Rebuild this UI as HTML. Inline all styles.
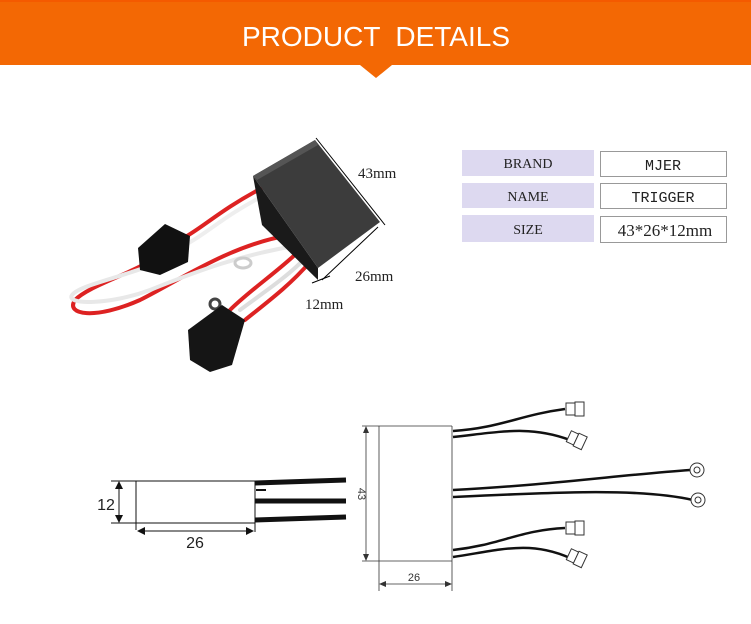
<!DOCTYPE html>
<html><head><meta charset="utf-8"><style>
body{margin:0;background:#fff;width:751px;height:624px;overflow:hidden}
svg{display:block}
</style></head><body>
<svg width="751" height="624" viewBox="0 0 751 624" xmlns="http://www.w3.org/2000/svg">
<rect x="0" y="0" width="751" height="65" fill="#f36804"/>
<rect x="0" y="0" width="751" height="2" fill="#f45a00"/>
<polygon points="360,65 392,65 376,78" fill="#f36804"/>
<text x="242" y="46" font-family="Liberation Sans, sans-serif" font-size="28" fill="#fff">PRODUCT</text>
<text x="510" y="46" font-family="Liberation Sans, sans-serif" font-size="28" fill="#fff" text-anchor="end">DETAILS</text>

<!-- table -->
<g font-family="Liberation Serif, serif" font-size="15" fill="#222" text-anchor="middle">
<rect x="462" y="150" width="132" height="26" fill="#ddd9f0"/>
<rect x="462" y="183" width="132" height="25" fill="#ddd9f0"/>
<rect x="462" y="215" width="132" height="27" fill="#ddd9f0"/>
<text x="528" y="168" font-size="14">BRAND</text>
<text x="528" y="201" font-size="14">NAME</text>
<text x="528" y="234" font-size="14">SIZE</text>
<rect x="600.5" y="151.5" width="126" height="25" fill="#fff" stroke="#999"/>
<rect x="600.5" y="183.5" width="126" height="25" fill="#fff" stroke="#999"/>
<rect x="600.5" y="216.5" width="126" height="26" fill="#fff" stroke="#999"/>
<text x="663" y="170" font-family="Liberation Mono, monospace" font-size="15">MJER</text>
<text x="663" y="202" font-family="Liberation Mono, monospace" font-size="15">TRIGGER</text>
<text x="665" y="236" font-size="17">43*26*12mm</text>
</g>

<!-- photo -->
<g fill="none" stroke-linecap="round">
<path d="M262,188 C220,210 200,230 180,240" stroke="#d22" stroke-width="4"/>
<path d="M265,195 C225,215 205,235 185,245" stroke="#eee" stroke-width="4"/>
<path d="M160,255 C130,275 90,285 75,300 C65,315 95,320 140,300 C180,280 230,245 290,235" stroke="#d22" stroke-width="4"/>
<path d="M160,262 C120,278 80,285 72,295 C65,305 110,305 150,290 C200,270 240,255 300,245" stroke="#e8e8e8" stroke-width="4"/>
<path d="M300,250 C280,270 250,290 230,310" stroke="#d22" stroke-width="4"/>
<path d="M305,258 C290,275 260,295 240,310" stroke="#ddd" stroke-width="4"/>
<path d="M310,262 C290,285 270,300 245,320" stroke="#d22" stroke-width="4"/>
<ellipse cx="243" cy="263" rx="8" ry="5" stroke="#ccc" stroke-width="3"/>
<circle cx="215" cy="304" r="5" stroke="#444" stroke-width="3"/>
</g>
<polygon points="138,248 165,224 190,236 188,262 160,275 140,270" fill="#111"/>
<polygon points="188,330 222,305 245,320 232,365 210,372 190,360" fill="#151515"/>
<polygon points="253,176 262,225 318,280 318,268" fill="#1a1a1a"/>
<polygon points="253,176 315,140 380,222 318,268" fill="#3c3c3c"/>
<polygon points="253,176 315,140 318,145 257,180" fill="#555"/>
<g stroke="#000" stroke-width="1">
<line x1="316" y1="138" x2="385" y2="225"/>
<line x1="378" y1="227" x2="322" y2="280"/>
<line x1="312" y1="283" x2="330" y2="276"/>
</g>
<g font-family="Liberation Serif, serif" font-size="15" fill="#222">
<text x="358" y="178">43mm</text>
<text x="355" y="281">26mm</text>
<text x="305" y="309">12mm</text>
</g>

<!-- side view -->
<g stroke="#111" fill="none">
<line x1="111" y1="481" x2="255" y2="481" stroke-width="1"/>
<line x1="111" y1="523" x2="255" y2="523" stroke-width="1"/>
<line x1="136" y1="481" x2="136" y2="530" stroke-width="1"/>
<line x1="255" y1="481" x2="255" y2="532" stroke-width="1"/>
<line x1="119" y1="483" x2="119" y2="521" stroke-width="1"/>
<line x1="138" y1="531" x2="253" y2="531" stroke-width="1"/>
<line x1="255" y1="483" x2="346" y2="480" stroke-width="5"/>
<line x1="255" y1="501" x2="346" y2="501" stroke-width="5"/>
<line x1="255" y1="520" x2="346" y2="517" stroke-width="5"/>
<line x1="256" y1="490" x2="266" y2="490" stroke-width="2"/>
</g>
<g fill="#111">
<polygon points="119,481 115,489 123,489"/><polygon points="119,523 115,515 123,515"/>
<polygon points="137,531 145,527 145,535"/><polygon points="254,531 246,527 246,535"/>
</g>
<text x="106" y="510" font-family="Liberation Sans, sans-serif" font-size="16" fill="#222" text-anchor="middle">12</text>
<text x="195" y="548" font-family="Liberation Sans, sans-serif" font-size="16" fill="#222" text-anchor="middle">26</text>

<!-- top view -->
<g stroke="#333" fill="none" stroke-width="0.8">
<line x1="362" y1="426" x2="452" y2="426"/>
<line x1="362" y1="561" x2="452" y2="561"/>
<line x1="379" y1="426" x2="379" y2="591"/>
<line x1="452" y1="426" x2="452" y2="591"/>
<line x1="366" y1="428" x2="366" y2="559"/>
<line x1="381" y1="584" x2="450" y2="584"/>
</g>
<g fill="#333">
<polygon points="366,426 363,433 369,433"/><polygon points="366,561 363,554 369,554"/>
<polygon points="379,584 386,581 386,587"/><polygon points="452,584 445,581 445,587"/>
</g>
<text x="358" y="494" font-family="Liberation Sans, sans-serif" font-size="11" fill="#333" text-anchor="middle" transform="rotate(90 358 494)">43</text>
<text x="414" y="581" font-family="Liberation Sans, sans-serif" font-size="11" fill="#333" text-anchor="middle">26</text>
<g stroke="#111" fill="none" stroke-width="2.5">
<path d="M453,431 C500,428 520,415 565,409"/>
<path d="M453,437 C500,432 530,425 570,440"/>
<path d="M453,490 C550,485 620,475 690,470"/>
<path d="M453,497 C560,492 640,488 693,500"/>
<path d="M453,550 C500,545 520,530 565,528"/>
<path d="M453,557 C500,550 530,540 570,558"/>
</g>
<g fill="#fff" stroke="#333" stroke-width="1">
<rect x="566" y="403" width="9" height="12"/><rect x="575" y="402" width="9" height="14"/>
<g transform="rotate(25 577 440)"><rect x="568" y="434" width="8" height="12"/><rect x="576" y="433" width="9" height="14"/></g>
<rect x="566" y="522" width="9" height="12"/><rect x="575" y="521" width="9" height="14"/>
<g transform="rotate(25 577 558)"><rect x="568" y="552" width="8" height="12"/><rect x="576" y="551" width="9" height="14"/></g>
<circle cx="697" cy="470" r="7"/><circle cx="697" cy="470" r="3"/>
<circle cx="698" cy="500" r="7"/><circle cx="698" cy="500" r="3"/>
</g>
</svg>
</body></html>
